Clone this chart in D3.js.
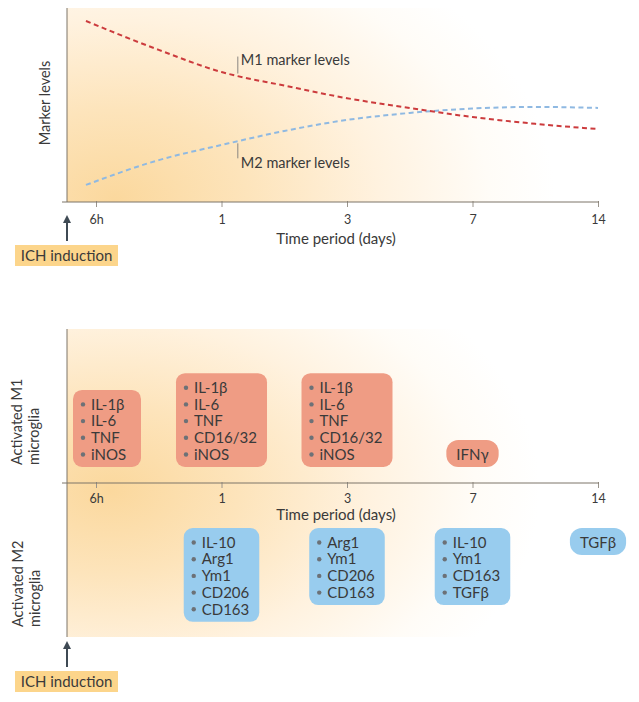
<!DOCTYPE html>
<html>
<head>
<meta charset="utf-8">
<script src="https://cdn.jsdelivr.net/npm/d3@7"></script>
<style>
  body { margin: 0; background: #fff; }
  svg text { font-family: Lato, "Open Sans", sans-serif; fill: #3a3a3a; }
</style>
</head>
<body>
<div id="chart"></div>
<script>
// data
var tickLabels = ["6h", "1", "3", "7", "14"];
var lineIndex = [-0.08, 0.5, 1, 1.5, 2, 2.5, 3, 3.5, 4];       // position along time axis (tick index)
var m1Levels = [93.3, 78.4, 67, 60, 53.5, 48.5, 43.8, 40.3, 37.6];
var m2Levels = [8.8, 21.6, 29.4, 36.6, 42.3, 45.9, 48.2, 49, 48.5];

var m1Ticks = [0, 1, 2, 3];
var m1Items = [
  ["IL-1β", "IL-6", "TNF", "iNOS"],
  ["IL-1β", "IL-6", "TNF", "CD16/32", "iNOS"],
  ["IL-1β", "IL-6", "TNF", "CD16/32", "iNOS"],
  ["IFNγ"]
];
var m2Ticks = [1, 2, 3, 4];
var m2Items = [
  ["IL-10", "Arg1", "Ym1", "CD206", "CD163"],
  ["Arg1", "Ym1", "CD206", "CD163"],
  ["IL-10", "Ym1", "CD163", "TGFβ"],
  ["TGFβ"]
];

var W = 639, H = 702;
var axisX = 67, rightX = 598;

var svg = d3.select("#chart").append("svg")
  .attr("width", W).attr("height", H);

var x = d3.scaleLinear().domain([0, 4]).range([96, rightX]);

var defs = svg.append("defs");
function glow(id, cx, cy, rx, ry) {
  var g = defs.append("radialGradient")
    .attr("id", id)
    .attr("gradientUnits", "userSpaceOnUse")
    .attr("cx", 0).attr("cy", 0).attr("r", 1)
    .attr("gradientTransform", "translate(" + cx + "," + cy + ") scale(" + rx + "," + ry + ")");
  g.append("stop").attr("offset", 0).attr("stop-color", "#fbd89d");
  g.append("stop").attr("offset", 0.3).attr("stop-color", "#fde4bb");
  g.append("stop").attr("offset", 0.6).attr("stop-color", "#fff2df");
  g.append("stop").attr("offset", 0.85).attr("stop-color", "#fffcf7");
  g.append("stop").attr("offset", 1).attr("stop-color", "#ffffff");
}
glow("glowTop", 115, 200, 440, 300);
glow("glowBot", 110, 490, 430, 280);

function axisPanel(top, axisY, bottom, tickY, titleY, arrowTop, grad) {
  svg.append("rect")
    .attr("x", axisX).attr("y", top)
    .attr("width", rightX - axisX).attr("height", bottom - top)
    .attr("fill", "url(#" + grad + ")");

  svg.append("line")
    .attr("x1", axisX).attr("x2", axisX)
    .attr("y1", top).attr("y2", bottom)
    .attr("stroke", "#7d7468").attr("stroke-width", 1);

  var ax = svg.append("g")
    .attr("transform", "translate(0," + axisY + ")")
    .call(d3.axisBottom(x).tickValues(d3.range(5))
      .tickFormat(function(d) { return tickLabels[d]; })
      .tickSize(5).tickSizeOuter(0));
  ax.select(".domain").remove();
  ax.selectAll(".tick line").attr("stroke", "#9a948c").attr("y1", -1);
  ax.selectAll(".tick text")
    .attr("y", tickY - axisY).attr("dy", 0)
    .attr("font-size", 12.5).style("fill", "#3a3a3a");
  ax.append("line")
    .attr("x1", axisX - 5).attr("x2", rightX + 1)
    .attr("stroke", "#7d7468").attr("stroke-width", 1);

  svg.append("text")
    .attr("x", 336).attr("y", titleY)
    .attr("text-anchor", "middle").attr("font-size", 15)
    .text("Time period (days)");

  // ICH induction arrow
  svg.append("line")
    .attr("x1", axisX).attr("x2", axisX)
    .attr("y1", arrowTop + 5).attr("y2", arrowTop + 26)
    .attr("stroke", "#3f4a54").attr("stroke-width", 2);
  svg.append("path")
    .attr("d", "M" + axisX + "," + arrowTop + " l-4,8 l8,0 z")
    .attr("fill", "#3f4a54");
  svg.append("rect")
    .attr("x", 15).attr("y", arrowTop + 30)
    .attr("width", 103).attr("height", 21)
    .attr("fill", "#fcd58b");
  svg.append("text")
    .attr("x", 66.5).attr("y", arrowTop + 45.5)
    .attr("text-anchor", "middle").attr("font-size", 15)
    .text("ICH induction");
}

// ---------- top panel ----------
var topY = 8, topAxis = 202;
axisPanel(topY, topAxis, topAxis, 224, 244, 215, "glowTop");

var y = d3.scaleLinear().domain([0, 100]).range([topAxis, topY]);

var line = d3.line()
  .x(function(d) { return x(d[0]); })
  .y(function(d) { return y(d[1]); })
  .curve(d3.curveMonotoneX);

svg.append("path")
  .datum(d3.zip(lineIndex, m2Levels))
  .attr("d", line)
  .attr("fill", "none").attr("stroke", "#8fb9e2")
  .attr("stroke-width", 2).attr("stroke-dasharray", "5,3.5");
svg.append("path")
  .datum(d3.zip(lineIndex, m1Levels))
  .attr("d", line)
  .attr("fill", "none").attr("stroke", "#cc3b3d")
  .attr("stroke-width", 2).attr("stroke-dasharray", "5,3.5");

function levelAt(levels, i) {
  return d3.scaleLinear().domain(lineIndex).range(levels)(i);
}
var labelAt = 1.13;
var m1y = y(levelAt(m1Levels, labelAt)), m2y = y(levelAt(m2Levels, labelAt));
svg.append("line")
  .attr("x1", x(labelAt)).attr("x2", x(labelAt))
  .attr("y1", m1y - 2).attr("y2", m1y - 19)
  .attr("stroke", "#8a8580");
svg.append("text")
  .attr("x", x(labelAt) + 3).attr("y", m1y - 11)
  .attr("font-size", 14.5).text("M1 marker levels");
svg.append("line")
  .attr("x1", x(labelAt)).attr("x2", x(labelAt))
  .attr("y1", m2y + 2).attr("y2", m2y + 17)
  .attr("stroke", "#8a8580");
svg.append("text")
  .attr("x", x(labelAt) + 3).attr("y", m2y + 27)
  .attr("font-size", 14.5).text("M2 marker levels");

svg.append("text")
  .attr("transform", "translate(45,103) rotate(-90)")
  .attr("text-anchor", "middle").attr("dy", "0.35em")
  .attr("font-size", 14.5).text("Marker levels");

// ---------- bottom panel ----------
var botTop = 329, botAxis = 483, botBottom = 637;
axisPanel(botTop, botAxis, botBottom, 503, 520, 641, "glowBot");

function sideLabel(cx, startY, lines) {
  var t = svg.append("text")
    .attr("transform", "translate(" + cx + "," + startY + ") rotate(-90)")
    .attr("font-size", 14.5);
  t.append("tspan").attr("x", 0).attr("dy", "0.35em").text(lines[0]);
  t.append("tspan").attr("x", 0).attr("dy", "1.15em").text(lines[1]);
}
sideLabel(17, 465, ["Activated M1", "microglia"]);
sideLabel(18, 627, ["Activated M2", "microglia"]);

var lineH = 16.7, fs = 15;

function boxes(ticks, items, fill, anchorY, fromTop) {
  ticks.forEach(function(t, k) {
    var list = items[k];
    var bullets = list.length > 1;
    var g = svg.append("g");
    var tx = g.selectAll("text").data(list).enter().append("text")
      .attr("font-size", fs)
      .text(function(d) { return d; });
    var tw = d3.max(tx.nodes(), function(n) { return n.getComputedTextLength(); });
    var w = bullets ? Math.max(68, tw + 28) : tw + 20;
    var h = 27 + (list.length - 1) * lineH;
    var left = x(t) - w / 2;
    if (left < axisX + 6) left = axisX + 6;
    var top = fromTop ? anchorY : anchorY - h;

    g.insert("rect", "text")
      .attr("x", left).attr("y", top)
      .attr("width", w).attr("height", h)
      .attr("rx", bullets ? 9 : 12)
      .attr("fill", fill);

    tx.attr("x", bullets ? left + 18 : left + w / 2)
      .attr("text-anchor", bullets ? "start" : "middle")
      .attr("y", function(d, i) { return top + 14.5 + i * lineH; })
      .attr("dy", "0.35em");

    if (bullets) {
      g.selectAll("circle").data(list).enter().append("circle")
        .attr("cx", left + 10)
        .attr("cy", function(d, i) { return top + 14.5 + i * lineH; })
        .attr("r", 2.2)
        .attr("fill", "#6c7177");
    }
  });
}
boxes(m1Ticks, m1Items, "#ef9c84", 467, false);
boxes(m2Ticks, m2Items, "#98ccee", 528, true);
</script>
</body>
</html>
